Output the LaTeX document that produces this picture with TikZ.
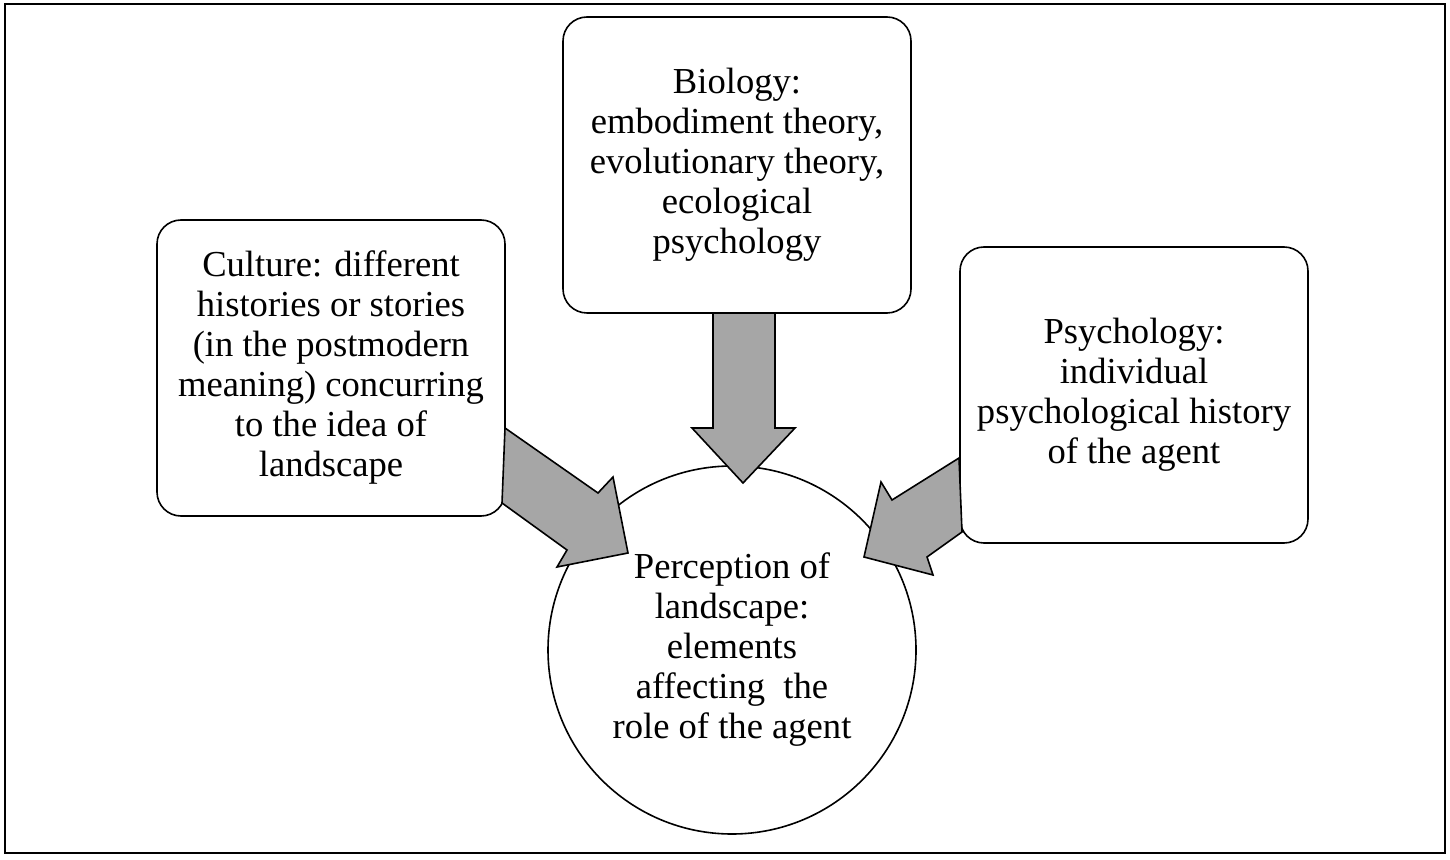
\documentclass[tikz,border=0pt]{standalone}
\usepackage{fontspec}
\setmainfont{Liberation Serif}
\usepackage{tikz}
\usepackage{xcolor}

\definecolor{arrowgray}{RGB}{166,166,166}

\begin{document}
\begin{tikzpicture}[x=0.5pt, y=-0.5pt,
    field/.style={draw, line width=0.8pt, rounded corners=12pt, align=center,
        minimum width=174pt, minimum height=148pt, inner sep=2pt,
        font=\fontsize{18.3}{20}\selectfont},
    centre/.style={draw, line width=0.8pt, circle, align=center,
        minimum size=184pt, inner sep=0pt,
        font=\fontsize{18.3}{20}\selectfont},
    block/.style={draw, line width=0.8pt, fill=arrowgray, line join=miter}]
    \useasboundingbox (0,0) rectangle (1450,860);

    % Outer frame
    \draw[line width=1.3pt] (5,4) rectangle (1445,853);

    % Source boxes
    \node[field] (bio) at (737,165)
        {Biology:\\embodiment theory,\\evolutionary theory,\\ecological\\psychology};
    \node[field] (cult) at (331,368)
        {Culture: different\\histories or stories\\(in the postmodern\\meaning) concurring\\to the idea of\\landscape};
    \node[field] (psy) at (1134,395)
        {Psychology:\\individual\\psychological history\\of the agent};

    % Centre circle
    \node[centre] (perc) at (732,650)
        {Perception of\\landscape:\\elements\\affecting\ \ the\\role of the agent};

    % Block arrows
    \draw[block] (505,428) -- (598,493) -- (613,477) -- (628,553)
        -- (557,567) -- (567,550) -- (502,503) -- cycle;
    \draw[block] (713,313) -- (713,428) -- (692,428) -- (743,483)
        -- (795,428) -- (775,428) -- (775,313) -- cycle;
    \draw[block] (959,458) -- (892,500) -- (881,482) -- (864,557)
        -- (933,575) -- (927,557) -- (962,532) -- cycle;

\end{tikzpicture}
\end{document}
